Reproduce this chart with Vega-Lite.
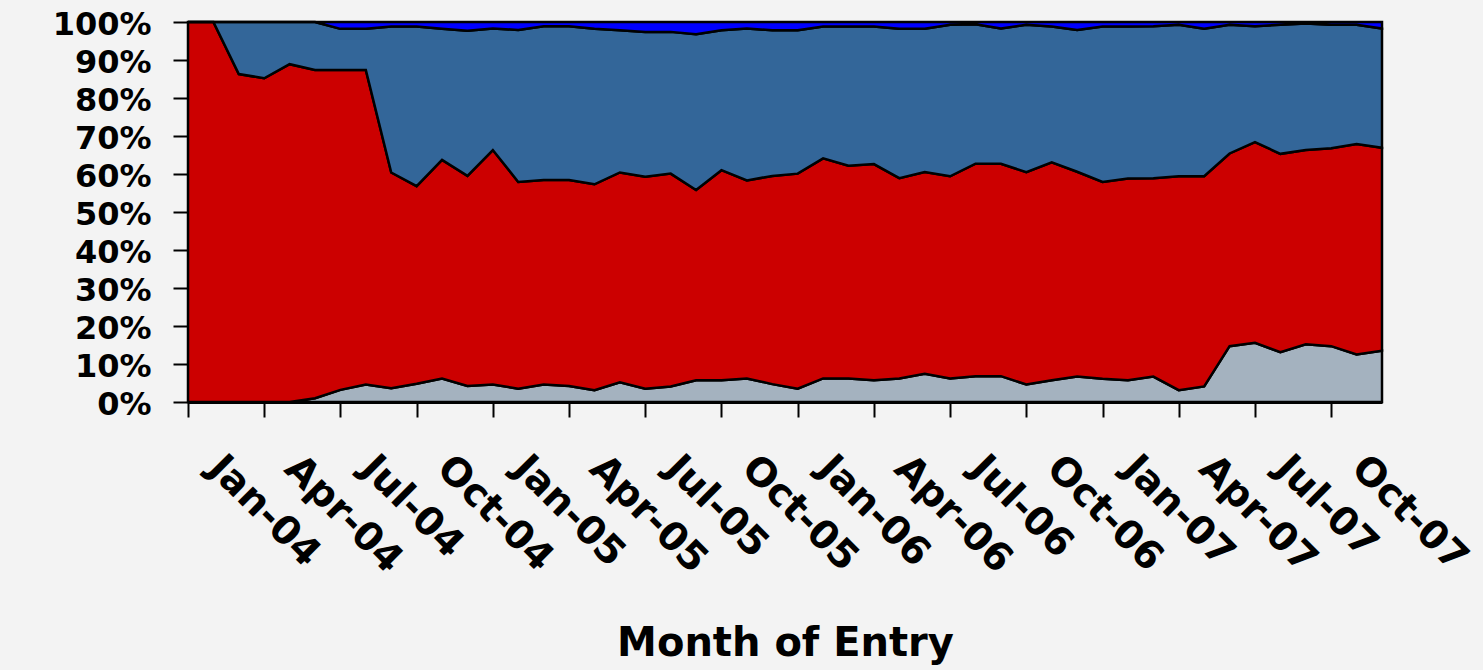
{
  "$schema": "https://vega.github.io/schema/vega-lite/v6.json",
  "width": 1194,
  "height": 380,
  "autosize": {"type": "none"},
  "padding": {"left": 188, "top": 22, "right": 101, "bottom": 268},
  "background": "#f3f3f3",
  "config": {
    "view": {"stroke": null},
    "font": "DejaVu Sans",
    "axis": {
      "domainColor": "black",
      "domainWidth": 3,
      "tickColor": "black",
      "tickWidth": 2,
      "tickSize": 15,
      "labelColor": "black",
      "labelFont": "DejaVu Sans",
      "labelFontWeight": "bold",
      "titleColor": "black",
      "titleFont": "DejaVu Sans",
      "titleFontWeight": "bold",
      "grid": false
    }
  },
  "data": {
    "values": [
      {"month": "Jan-04", "s1": 0, "s2": 100, "s3": 0, "s4": 0},
      {"month": "Feb-04", "s1": 0, "s2": 100, "s3": 0, "s4": 0},
      {"month": "Mar-04", "s1": 0, "s2": 86.3, "s3": 13.7, "s4": 0},
      {"month": "Apr-04", "s1": 0, "s2": 85.2, "s3": 14.8, "s4": 0},
      {"month": "May-04", "s1": 0, "s2": 88.9, "s3": 11.1, "s4": 0},
      {"month": "Jun-04", "s1": 1.0, "s2": 86.4, "s3": 12.6, "s4": 0},
      {"month": "Jul-04", "s1": 3.2, "s2": 84.2, "s3": 10.8, "s4": 1.8},
      {"month": "Aug-04", "s1": 4.6, "s2": 82.8, "s3": 10.8, "s4": 1.8},
      {"month": "Sep-04", "s1": 3.6, "s2": 56.8, "s3": 38.4, "s4": 1.2},
      {"month": "Oct-04", "s1": 4.8, "s2": 52.0, "s3": 42.0, "s4": 1.2},
      {"month": "Nov-04", "s1": 6.2, "s2": 57.5, "s3": 34.5, "s4": 1.8},
      {"month": "Dec-04", "s1": 4.2, "s2": 55.3, "s3": 38.2, "s4": 2.3},
      {"month": "Jan-05", "s1": 4.6, "s2": 61.7, "s3": 32.0, "s4": 1.7},
      {"month": "Feb-05", "s1": 3.5, "s2": 54.4, "s3": 40.0, "s4": 2.1},
      {"month": "Mar-05", "s1": 4.6, "s2": 53.8, "s3": 40.5, "s4": 1.1},
      {"month": "Apr-05", "s1": 4.2, "s2": 54.2, "s3": 40.5, "s4": 1.1},
      {"month": "May-05", "s1": 3.1, "s2": 54.2, "s3": 40.9, "s4": 1.8},
      {"month": "Jun-05", "s1": 5.2, "s2": 55.2, "s3": 37.4, "s4": 2.2},
      {"month": "Jul-05", "s1": 3.5, "s2": 55.8, "s3": 38.1, "s4": 2.6},
      {"month": "Aug-05", "s1": 4.1, "s2": 56.0, "s3": 37.3, "s4": 2.6},
      {"month": "Sep-05", "s1": 5.7, "s2": 50.1, "s3": 41.0, "s4": 3.2},
      {"month": "Oct-05", "s1": 5.7, "s2": 55.3, "s3": 36.8, "s4": 2.2},
      {"month": "Nov-05", "s1": 6.2, "s2": 52.1, "s3": 40.0, "s4": 1.7},
      {"month": "Dec-05", "s1": 4.7, "s2": 54.8, "s3": 38.3, "s4": 2.2},
      {"month": "Jan-06", "s1": 3.5, "s2": 56.6, "s3": 37.7, "s4": 2.2},
      {"month": "Feb-06", "s1": 6.2, "s2": 57.9, "s3": 34.7, "s4": 1.2},
      {"month": "Mar-06", "s1": 6.2, "s2": 56.0, "s3": 36.6, "s4": 1.2},
      {"month": "Apr-06", "s1": 5.7, "s2": 56.9, "s3": 36.2, "s4": 1.2},
      {"month": "May-06", "s1": 6.2, "s2": 52.7, "s3": 39.3, "s4": 1.8},
      {"month": "Jun-06", "s1": 7.4, "s2": 53.1, "s3": 37.7, "s4": 1.8},
      {"month": "Jul-06", "s1": 6.2, "s2": 53.2, "s3": 39.9, "s4": 0.7},
      {"month": "Aug-06", "s1": 6.8, "s2": 55.9, "s3": 36.7, "s4": 0.6},
      {"month": "Sep-06", "s1": 6.8, "s2": 55.9, "s3": 35.6, "s4": 1.7},
      {"month": "Oct-06", "s1": 4.6, "s2": 55.9, "s3": 38.8, "s4": 0.7},
      {"month": "Nov-06", "s1": 5.7, "s2": 57.4, "s3": 35.7, "s4": 1.2},
      {"month": "Dec-06", "s1": 6.7, "s2": 53.9, "s3": 37.3, "s4": 2.1},
      {"month": "Jan-07", "s1": 6.1, "s2": 51.8, "s3": 40.9, "s4": 1.2},
      {"month": "Feb-07", "s1": 5.7, "s2": 53.1, "s3": 40.0, "s4": 1.2},
      {"month": "Mar-07", "s1": 6.7, "s2": 52.2, "s3": 40.0, "s4": 1.1},
      {"month": "Apr-07", "s1": 3.1, "s2": 56.3, "s3": 39.9, "s4": 0.7},
      {"month": "May-07", "s1": 4.1, "s2": 55.3, "s3": 38.8, "s4": 1.8},
      {"month": "Jun-07", "s1": 14.7, "s2": 50.7, "s3": 33.9, "s4": 0.7},
      {"month": "Jul-07", "s1": 15.6, "s2": 52.8, "s3": 30.5, "s4": 1.1},
      {"month": "Aug-07", "s1": 13.1, "s2": 52.2, "s3": 34.0, "s4": 0.7},
      {"month": "Sep-07", "s1": 15.2, "s2": 51.1, "s3": 33.3, "s4": 0.4},
      {"month": "Oct-07", "s1": 14.7, "s2": 52.1, "s3": 32.5, "s4": 0.7},
      {"month": "Nov-07", "s1": 12.5, "s2": 55.4, "s3": 31.4, "s4": 0.7},
      {"month": "Dec-07", "s1": 13.5, "s2": 53.4, "s3": 31.4, "s4": 1.7}
    ]
  },
  "transform": [
    {"fold": ["s1", "s2", "s3", "s4"], "as": ["series", "share"]}
  ],
  "mark": {"type": "area", "stroke": "black", "strokeWidth": 2.5, "opacity": 1},
  "encoding": {
    "x": {
      "field": "month",
      "type": "ordinal",
      "sort": null,
      "scale": {"type": "point", "padding": 0},
      "axis": {
        "values": ["Jan-04", "Apr-04", "Jul-04", "Oct-04", "Jan-05", "Apr-05", "Jul-05", "Oct-05", "Jan-06", "Apr-06", "Jul-06", "Oct-06", "Jan-07", "Apr-07", "Jul-07", "Oct-07"],
        "labelAngle": 45,
        "labelAlign": "left",
        "labelBaseline": "top",
        "labelFontSize": 39,
        "labelPadding": 31,
        "labelOffset": 40,
        "labelBound": false,
        "labelOverlap": false,
        "labelFlush": false,
        "title": "Month of Entry",
        "titleFontSize": 40,
        "titleBaseline": "alphabetic",
        "titleY": 253,
        "titleAnchor": "middle"
      }
    },
    "y": {
      "field": "share",
      "type": "quantitative",
      "stack": "normalize",
      "scale": {"domain": [0, 1], "nice": false},
      "axis": {
        "values": [0, 0.1, 0.2, 0.3, 0.4, 0.5, 0.6, 0.7, 0.8, 0.9, 1],
        "format": ".0%",
        "labelFontSize": 32,
        "labelPadding": 22,
        "labelOffset": 2,
        "labelBaseline": "middle",
        "labelAlign": "right",
        "labelOverlap": false,
        "labelBound": false,
        "labelFlush": false,
        "title": null
      }
    },
    "color": {
      "field": "series",
      "type": "nominal",
      "scale": {"domain": ["s1", "s2", "s3", "s4"], "range": ["#a4b2bf", "#cc0000", "#336699", "#0000ff"]},
      "legend": null
    },
    "order": {"field": "series", "sort": "ascending"}
  }
}
